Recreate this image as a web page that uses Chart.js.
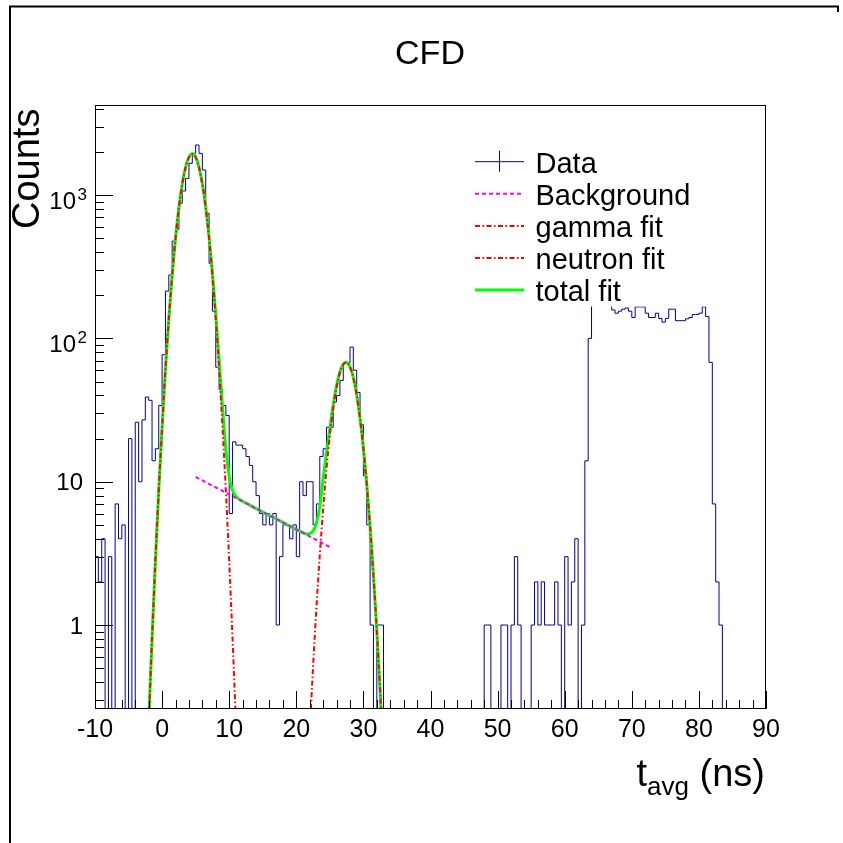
<!DOCTYPE html>
<html>
<head>
<meta charset="utf-8">
<title>CFD</title>
<script src="https://cdn.jsdelivr.net/npm/chart.js@4.4.1/dist/chart.umd.min.js"></script>
<style>
  html, body { margin:0; padding:0; background:#fff; overflow:hidden; }
  canvas { display:block; }
</style>
</head>
<body>
<canvas id="cfd" width="843" height="843"></canvas>
<script>
'use strict';

// histogram: 200 bins of 0.5 ns from -10 to 90 (counts per bin, left edge first)
const binStart = -10, binWidth = 0.5;
const counts = [
  3,2,4,0,3,0,7,4,5,0,20,0,26,10,27,39,37,14,17,34,                       // -10 .. -0.5
  77,214,277,478,577,877,1069,1310,1667,1958,2238,1958,1497,746,334,155,63,44,34,29, // 0 .. 9.5
  6,19,18,18,17,15,13,10,8,6,5,6,5,6,1,3,5,5,4,5,                          // 10 .. 19.5
  3,10,8,10,10,5,7,15,17,24,24,36,40,51,67,67,87,60,42,25,                 // 20 .. 29.5
  11,5,1,0,1,1,0,0,0,0,0,0,0,0,0,0,0,0,0,0,                                // 30 .. 39.5
  0,0,0,0,0,0,0,0,0,0,0,0,0,0,0,0,1,1,0,0,                                 // 40 .. 49.5
  0,1,1,0,1,3,1,0,0,0,1,2,1,2,1,1,1,2,1,0,                                 // 50 .. 59.5
  3,1,2,4,0,1,14,100,210,230,200,220,190,180,158,150,155,160,163,155,      // 60 .. 69.5
  140,166,166,166,150,140,140,150,138,130,138,160,160,133,133,133,137,140,147,147, // 70 .. 79.5
  150,166,142,68,7,2,1,0,0,0,0,0,0,0,0,0,0,0,0,0                           // 80 .. 89.5
];

// fit curves
const bkgX = [5, 10, 15, 20, 25];
const bkgY = [10.8, 8.15, 6.15, 4.65, 3.5];

const gammaX = [-2,-1.5,-1,-0.5,0,0.5,1,1.5,2,2.5,3,3.5,4,4.5,5,5.5,6,6.5,7,7.5,8,8.5,9,9.5,10,10.5,11];
const gammaY = [0.21,0.80,2.8,8.7,24,61,137,276,500,815,1190,1560,1835,1936,1835,1560,1190,815,500,276,137,61,24,8.7,2.8,0.80,0.21];

const neutronX = [22,22.5,23,23.5,24,24.5,25,25.5,26,26.5,27,27.4,28,28.5,29,29.5,30,30.5,31,31.5,32,32.5,33];
const neutronY = [0.18,0.51,1.32,3.07,6.45,12.3,21.0,32.6,45.6,57.7,65.8,68,63.2,53.2,40.4,27.7,17.2,9.6,4.85,2.21,0.91,0.34,0.11];

const totalX = [-2,-1.5,-1,-0.5,0,0.5,1,1.5,2,2.5,3,3.5,4,4.5,5,5.5,6,6.5,7,7.5,8,8.5,9,9.5,10,10.5,11,11.5,12,13,
  14,15,16,17,18,19,20,21,21.5,22,22.5,23,23.5,24,24.5,25,25.5,26,26.5,27,27.4,28,28.5,29,29.5,30,30.5,31,31.5,32,32.5,33];
const totalY = [0.21,0.80,2.8,8.7,24,61,137,276,501,815,1190,1565,1841,1945,1846,1570,1200,825,510,285,146,70,33,17,10.9,8.7,7.9,7.55,7.3,6.9,
  6.5,6.15,5.8,5.5,5.2,4.9,4.64,4.41,4.32,4.33,4.54,5.14,6.7,10.5,16,23.4,34.3,46.7,58.3,66.1,68.1,63.3,53.2,40.4,27.7,17.2,9.6,4.85,2.21,0.91,0.34,0.11];

// axes
const xTicks = [-10,0,10,20,30,40,50,60,70,80,90];
const xTickLabels = ['-10','0','10','20','30','40','50','60','70','80','90'];
const yTicks = [1,10,100,1000];
const yTickBase = ['1','10','10','10'];
const yTickExp = ['','','2','3'];

const FONT = '"Liberation Sans", Arial, Helvetica, sans-serif';
const EMPTY = 1e-3; // empty bins fall below the axis on a log scale

const zip = (xs, ys) => xs.map((x,i)=>({x, y:ys[i]}));
const histPts = counts.map((v,i)=>({x: binStart + i*binWidth, y: v>0 ? v : EMPTY}));
histPts.push({x: binStart + counts.length*binWidth, y: counts[counts.length-1] || EMPTY});

const rootStyle = {
  id: 'rootStyle',
  beforeDraw(chart) {
    const c = chart.ctx;
    c.save(); c.fillStyle = '#fff'; c.fillRect(0, 0, chart.width, chart.height); c.restore();
  },
  afterDatasetsDraw(chart) {
    const c = chart.ctx, a = chart.chartArea, xs = chart.scales.x, ys = chart.scales.y;
    c.save();

    // legend (white box hides what is behind it)
    c.fillStyle = '#fff';
    c.fillRect(468, 140, 294, 166.5);
    const sets = chart.data.datasets;
    sets.forEach((d, i) => {
      const y = 161.7 + i*32.1;
      c.strokeStyle = d.borderColor; c.lineWidth = d.borderWidth;
      c.setLineDash(d.borderDash || []);
      c.beginPath(); c.moveTo(475, y); c.lineTo(524, y); c.stroke();
      c.setLineDash([]);
      if (d.errBar) { c.beginPath(); c.moveTo(499.5, y-11); c.lineTo(499.5, y+10); c.stroke(); }
      c.fillStyle = '#000'; c.font = `29px ${FONT}`; c.textAlign = 'left'; c.textBaseline = 'alphabetic';
      c.fillText(d.label, 535.5, y + 11);
    });

    // frame
    c.strokeStyle = '#000'; c.lineWidth = 1;
    c.strokeRect(a.left + 0.5, a.top + 0.5, a.right - a.left - 1, a.bottom - a.top - 1);

    // x ticks: major every 10, minor every 2
    c.beginPath();
    for (let v = -10; v <= 90; v += 2) {
      const px = Math.round(xs.getPixelForValue(v)) + 0.5;
      const len = (v % 10 === 0) ? 18 : 9;
      c.moveTo(px, a.bottom); c.lineTo(px, a.bottom - len);
    }
    // y ticks: decades long, 2..9 short
    for (let e = -1; e <= 3; e++) {
      for (let k = 1; k <= 9; k++) {
        const v = k * Math.pow(10, e);
        if (v < ys.min || v > ys.max) continue;
        const py = Math.round(ys.getPixelForValue(v)) + 0.5;
        c.moveTo(a.left, py); c.lineTo(a.left + (k === 1 ? 18 : 9), py);
      }
    }
    c.stroke();

    // tick labels
    c.fillStyle = '#000'; c.textBaseline = 'alphabetic';
    c.font = `25px ${FONT}`; c.textAlign = 'center';
    xTicks.forEach((v, i) => c.fillText(xTickLabels[i], xs.getPixelForValue(v), 736.5));
    yTicks.forEach((v, i) => {
      const py = ys.getPixelForValue(v);
      if (yTickExp[i]) {
        c.font = `17px ${FONT}`; c.textAlign = 'left';
        const ex = 87 - c.measureText(yTickExp[i]).width;
        c.fillText(yTickExp[i], ex, py + 4.5);
        c.font = `24px ${FONT}`; c.textAlign = 'right';
        c.fillText(yTickBase[i], ex - 1.5, py + 13.5);
      } else {
        c.font = `24px ${FONT}`; c.textAlign = 'right';
        c.fillText(yTickBase[i], 83, py + 8.5);
      }
    });

    // title
    c.font = `34px ${FONT}`; c.textAlign = 'center';
    c.fillText('CFD', 430, 64);

    // x title: t_avg (ns), right aligned to the frame
    c.textAlign = 'left';
    c.font = `38px ${FONT}`; const wT = c.measureText('t').width, wN = c.measureText(' (ns)').width;
    c.font = `26px ${FONT}`; const wS = c.measureText('avg').width;
    let tx = a.right - 1 - (wT + wS + wN);
    c.font = `38px ${FONT}`; c.fillText('t', tx, 786); tx += wT;
    c.font = `26px ${FONT}`; c.fillText('avg', tx, 795); tx += wS;
    c.font = `38px ${FONT}`; c.fillText(' (ns)', tx, 786);

    // y title
    c.translate(39, 229); c.rotate(-Math.PI/2);
    c.font = `38px ${FONT}`; c.fillText('Counts', 0, 0);
    c.restore();

    // canvas border
    c.save(); c.strokeStyle = '#000'; c.lineWidth = 2;
    c.beginPath(); c.moveTo(10, 843); c.lineTo(10, 6.5); c.lineTo(838, 6.5); c.lineTo(838, 12); c.stroke();
    c.restore();
  }
};

new Chart(document.getElementById('cfd'), {
  type: 'line',
  data: {
    datasets: [
      { label:'Data', data:histPts, borderColor:'#000099', borderWidth:1, stepped:true,
        pointRadius:0, fill:false, order:5, errBar:true },
      { label:'Background', data:zip(bkgX,bkgY), borderColor:'#ff00ff', borderWidth:2, borderDash:[4,3],
        pointRadius:0, fill:false, order:1 },
      { label:'gamma fit', data:zip(gammaX,gammaY), borderColor:'#ff0000', borderWidth:2, borderDash:[5,2.5,1.5,2.5],
        pointRadius:0, fill:false, cubicInterpolationMode:'monotone', order:2 },
      { label:'neutron fit', data:zip(neutronX,neutronY), borderColor:'#ff0000', borderWidth:2, borderDash:[5,2.5,1.5,2.5],
        pointRadius:0, fill:false, cubicInterpolationMode:'monotone', order:2 },
      { label:'total fit', data:zip(totalX,totalY), borderColor:'#00ff00', borderWidth:3,
        pointRadius:0, fill:false, cubicInterpolationMode:'monotone', order:4 }
    ]
  },
  options: {
    responsive:false, animation:false, devicePixelRatio:1,
    layout: { padding: { left:95, top:105, right:77, bottom:134 } },
    scales: {
      x: { type:'linear', min:-10, max:90, display:false },
      y: { type:'logarithmic', min:0.2594, max:4256, display:false }
    },
    plugins: { legend:{ display:false }, tooltip:{ enabled:false } }
  },
  plugins: [rootStyle]
});
</script>
</body>
</html>
